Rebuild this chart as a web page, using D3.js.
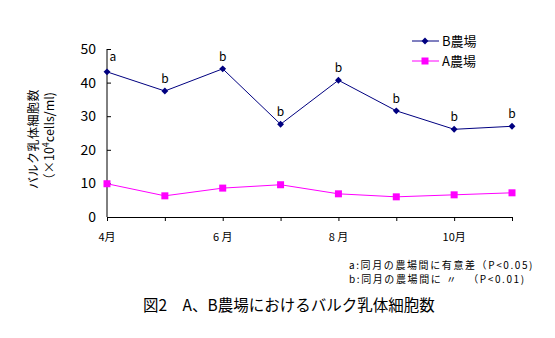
<!DOCTYPE html>
<html><head><meta charset="utf-8">
<script src="https://cdn.jsdelivr.net/npm/d3@7"></script>
<style>body{margin:0;background:#fff}svg{display:block}text{font-family:"Noto Sans CJK JP","DejaVu Sans",sans-serif;fill:#000}</style>
</head><body><svg id="c" width="555" height="338"></svg>
<script>
const months = [4,5,6,7,8,9,10,11];
const monthLabels = ["4月","","6 月","","8 月","","10月",""];
const farmB = [43.2,37.5,44.1,27.6,40.7,31.6,26.1,27.0];
const farmA = [9.9,6.3,8.6,9.6,6.9,6.0,6.6,7.2];
const sigLabels = ["a","b","b","b","b","b","b","b"];
const yTicks = [0,10,20,30,40,50];
const seriesNames = ["B農場","A農場"];
const notes = ["a:同月の農場間に有意差（P<0.05)","b:同月の農場間に 〃 　（P<0.01)"];
const title = "図2　A、B農場におけるバルク乳体細胞数";

const svg = d3.select("#c");
const x = d3.scaleLinear().domain([4,11]).range([107,512]);
const y = d3.scaleLinear().domain([0,50]).range([217,49]);

// y axis
const ya = svg.append("g").attr("transform","translate(107,0)")
  .call(d3.axisRight(y).tickValues(yTicks).tickSize(4).tickFormat(""));
ya.select(".domain").attr("d","M0,49V217").attr("stroke","#000");
ya.selectAll(".tick line").attr("stroke","#000");
svg.append("g").selectAll("text").data(yTicks).join("text")
  .attr("x",96).attr("y",d=>y(d)+5).attr("text-anchor","end")
  .style("font-size","14px").text(d=>d);

// x axis
const xa = svg.append("g").attr("transform","translate(0,217)")
  .call(d3.axisBottom(x).tickValues(months).tickSize(4).tickSizeOuter(0).tickFormat(""));
xa.select(".domain").attr("stroke","#000");
xa.selectAll(".tick line").attr("stroke","#000");
svg.append("g").selectAll("text").data(months).join("text")
  .attr("x",d=>x(d)).attr("y",241).attr("text-anchor","middle")
  .style("font-size","11px").text((d,i)=>monthLabels[i]);

// y label
svg.append("text").attr("transform","translate(38,139) rotate(-90)")
  .attr("text-anchor","middle").style("font-size","12px").style("letter-spacing","0.5px").text("バルク乳体細胞数");
const yl2 = svg.append("text").attr("transform","translate(54,139) rotate(-90)")
  .attr("text-anchor","middle").style("font-size","12.5px");
yl2.append("tspan").text("（×10");
yl2.append("tspan").attr("dy",-5).style("font-size","9px").text("4");
yl2.append("tspan").attr("dy",5).text("cells/ml)");

// lines
const line = d3.line().x((d,i)=>x(months[i])).y(d=>y(d));
svg.append("path").datum(farmA).attr("d",line).attr("fill","none").attr("stroke","#FF00FF").attr("stroke-width",1);
svg.append("path").datum(farmB).attr("d",line).attr("fill","none").attr("stroke","#000080").attr("stroke-width",1);

const diamond = d3.symbol().type(d3.symbolDiamond2).size(30);
svg.append("g").selectAll("path").data(farmB).join("path")
  .attr("transform",(d,i)=>`translate(${x(months[i])},${y(d)})`)
  .attr("d",diamond).attr("fill","#000080");
svg.append("g").selectAll("rect").data(farmA).join("rect")
  .attr("x",(d,i)=>x(months[i])-3.5).attr("y",d=>y(d)-3.5)
  .attr("width",7).attr("height",7).attr("fill","#FF00FF");

// significance labels
svg.append("g").selectAll("text").data(farmB).join("text")
  .attr("x",(d,i)=>x(months[i])+(i===0?6:0)).attr("y",(d,i)=>i===0?y(50)+12:y(d)-8)
  .attr("text-anchor","middle").style("font-size","12px").text((d,i)=>sigLabels[i]);

// legend
const lg = svg.append("g");
[0,1].forEach(k=>{
  const ly = 41 + k*20;
  const col = k===0?"#000080":"#FF00FF";
  lg.append("line").attr("x1",412).attr("x2",439).attr("y1",ly).attr("y2",ly).attr("stroke",col);
  if(k===0) lg.append("path").attr("transform",`translate(425,${ly})`).attr("d",diamond).attr("fill",col);
  else lg.append("rect").attr("x",421.5).attr("y",ly-3.5).attr("width",7).attr("height",7).attr("fill",col);
  lg.append("text").attr("x",442).attr("y",ly+5).style("font-size","13px").text(seriesNames[k]);
});

// notes
svg.append("g").selectAll("text").data(notes).join("text")
  .attr("x",349).attr("y",(d,i)=>269+i*14).style("font-size","10px").style("letter-spacing","1.6px").text(d=>d);

// title
svg.append("text").attr("x",143).attr("y",311).style("font-size","15.5px").text(title);
</script></body></html>
